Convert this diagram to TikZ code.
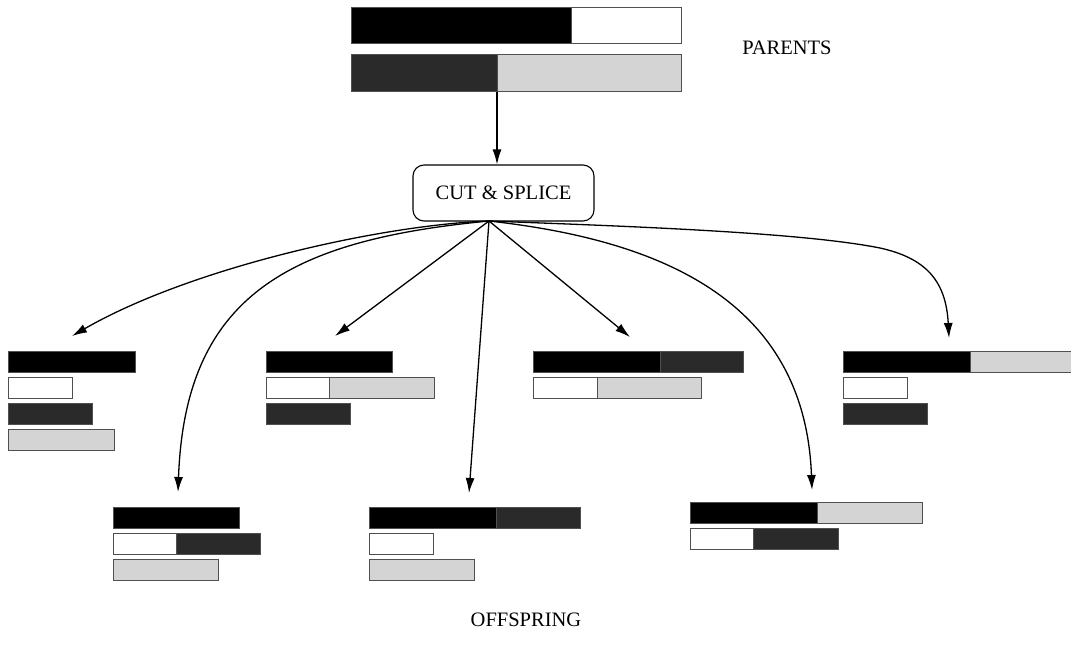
\documentclass[tikz,border=0pt]{standalone}
\usepackage{fontspec}
\setmainfont{Liberation Serif}
\usetikzlibrary{arrows.meta}
\definecolor{bardark}{HTML}{2A2A2A}
\definecolor{barlight}{HTML}{D4D4D4}
\definecolor{barline}{HTML}{505050}
\tikzset{
  seg/.style={draw=barline, line width=0.9pt},
  link/.style={line width=1.3pt, -{Latex[length=15pt,width=9pt]}},
  caption/.style={font=\fontsize{20.5}{24}\selectfont, inner sep=0pt},
  opbox/.style={draw, line width=1.1pt, rounded corners=11pt,
    minimum width=181pt, minimum height=56pt, inner sep=0pt,
    font=\fontsize{20.5}{24}\selectfont}
}
% one coloured segment of a chromosome bar: x-left, x-right, y-top, height, fill
\newcommand\bseg[5]{\draw[seg, fill=#5] (#1,#3) rectangle (#2,#3+#4);}
\begin{document}
\begin{tikzpicture}[x=1pt, y=-1pt]
\useasboundingbox (0,0) rectangle (1071,659);
\clip (0,0) rectangle (1071,659);

% parents
\bseg{351}{571}{7}{36}{black}
\bseg{571}{681}{7}{36}{white}
\bseg{351}{497}{54}{37}{bardark}
\bseg{497}{681}{54}{37}{barlight}
\node[caption] (parents) at (787,48) {PARENTS};

% operator
\node[opbox] (cut) at (503.5,193) {CUT \& SPLICE};
\coordinate (pout) at (497,92);
\draw[link] (pout) -- (cut.north -| pout);
\coordinate (fan) at (489,221);

% offspring, upper row
\bseg{8}{135}{351}{21}{black}
\bseg{8}{72}{377}{21}{white}
\bseg{8}{92}{403}{21}{bardark}
\bseg{8}{114}{429}{21}{barlight}

\bseg{266}{392}{351}{21}{black}
\bseg{266}{329}{377}{21}{white}
\bseg{329}{434}{377}{21}{barlight}
\bseg{266}{350}{403}{21}{bardark}

\bseg{533}{660}{351}{21}{black}
\bseg{660}{743}{351}{21}{bardark}
\bseg{533}{597}{377}{21}{white}
\bseg{597}{701}{377}{21}{barlight}

\bseg{843}{970}{351}{21}{black}
\bseg{970}{1075}{351}{21}{barlight}
\bseg{843}{907}{377}{21}{white}
\bseg{843}{927}{403}{21}{bardark}

% offspring, lower row
\bseg{113}{239}{507}{21}{black}
\bseg{113}{176}{533}{21}{white}
\bseg{176}{260}{533}{21}{bardark}
\bseg{113}{218}{559}{21}{barlight}

\bseg{369}{496}{507}{21}{black}
\bseg{496}{580}{507}{21}{bardark}
\bseg{369}{433}{533}{21}{white}
\bseg{369}{474}{559}{21}{barlight}

\bseg{690}{817}{502}{21}{black}
\bseg{817}{922}{502}{21}{barlight}
\bseg{690}{753}{528}{21}{white}
\bseg{753}{838}{528}{21}{bardark}

\node[caption] (offspring) at (526,620) {OFFSPRING};

% arrow targets above each offspring group
\coordinate (t1) at (72,336);
\coordinate (t2) at (335,336);
\coordinate (t3) at (630,337);
\coordinate (t4) at (949,338);
\coordinate (t5) at (178,492);
\coordinate (t6) at (469,493);
\coordinate (t7) at (812,490);

\draw[link] (fan) .. controls (380,225) and (190,268) .. (t1);
\draw[link] (fan) -- (t2);
\draw[link] (fan) -- (t3);
\draw[link] (fan) .. controls (620,226) and (800,232) .. (880,248)
                  .. controls (925,258) and (946,280) .. (t4);
\draw[link] (fan) .. controls (290,240) and (185,295) .. (t5);
\draw[link] (fan) -- (t6);
\draw[link] (fan) .. controls (660,240) and (805,300) .. (t7);
\end{tikzpicture}
\end{document}
